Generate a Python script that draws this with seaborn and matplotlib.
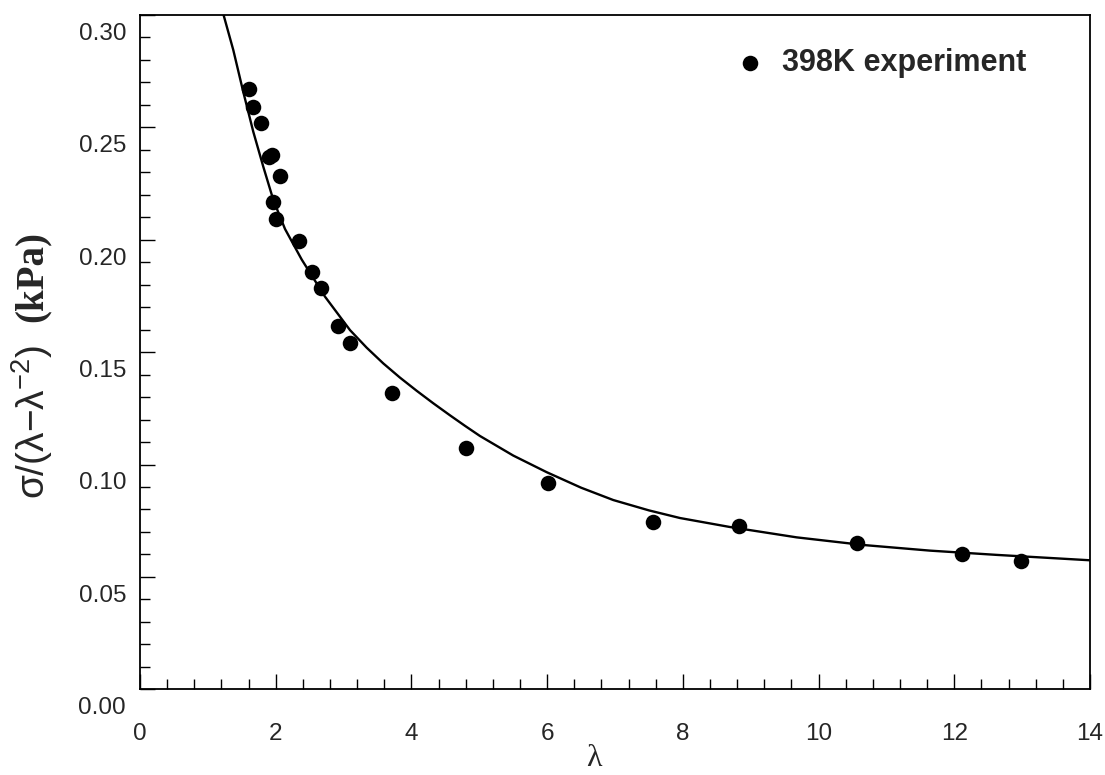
import matplotlib
matplotlib.use("Agg")
import matplotlib.pyplot as plt
import pandas as pd
import seaborn as sns
from matplotlib.ticker import MultipleLocator, NullFormatter

# Measured reduced stress vs. stretch ratio at 398 K
lam_exp = [1.61, 1.66, 1.79, 1.90, 1.94, 2.06, 1.96, 2.01, 2.34, 2.53, 2.66,
           2.92, 3.10, 3.72, 4.81, 6.02, 7.56, 8.83, 10.57, 12.11, 12.98]
stress_exp = [0.2669, 0.2592, 0.2518, 0.2370, 0.2376, 0.2284, 0.2167, 0.2091,
              0.1996, 0.1858, 0.1784, 0.1616, 0.1539, 0.1317, 0.1072, 0.0916,
              0.0746, 0.0727, 0.0652, 0.0602, 0.0572]

# Model curve
lam_fit = [1.228, 1.375, 1.52, 1.67, 1.817, 1.965, 2.137, 2.383, 2.726, 3.095,
           3.34, 3.585, 3.83, 4.078, 4.32, 4.568, 4.79, 5.01, 5.5, 5.993,
           6.5, 6.975, 7.5, 7.958, 8.695, 9.677, 10.66, 11.64, 12.625, 14.0]
stress_fit = [0.3004, 0.2844, 0.2660, 0.2480, 0.2325, 0.2177, 0.2048, 0.1912,
              0.1747, 0.1598, 0.1520, 0.1450, 0.1387, 0.1328, 0.1273, 0.1219,
              0.1172, 0.1127, 0.1040, 0.0966, 0.0897, 0.0842, 0.0796, 0.0762,
              0.0722, 0.0676, 0.0642, 0.0617, 0.0598, 0.0574]

y_ticks = [0.00, 0.05, 0.10, 0.15, 0.20, 0.25, 0.30]
x_ticks = [0, 2, 4, 6, 8, 10, 12, 14]

sns.set_style("ticks")
plt.rcParams["font.family"] = ["Liberation Sans", "DejaVu Sans"]
plt.rcParams["mathtext.fontset"] = "custom"
plt.rcParams["mathtext.rm"] = "Liberation Sans"
plt.rcParams["mathtext.it"] = "Liberation Sans:italic"
plt.rcParams["mathtext.bf"] = "Liberation Sans:bold"

W, H = 1105, 775
fig = plt.figure(figsize=(W / 100, H / 100), dpi=100)
ax = fig.add_axes([140 / W, (H - 689.3) / H, 950 / W, 674.3 / H])

exp = pd.DataFrame({"lam": lam_exp, "s": stress_exp})
fit = pd.DataFrame({"lam": lam_fit, "s": stress_fit})

sns.lineplot(data=fit, x="lam", y="s", ax=ax, color="black", linewidth=1.7,
             sort=False, estimator=None)
sns.scatterplot(data=exp, x="lam", y="s", ax=ax, color="black", s=125,
                linewidth=0, label="398K experiment", zorder=3)

ax.set_xlim(0, 14)
ax.set_ylim(0, 0.30)
ax.set_xlabel("")
ax.set_ylabel("")

ax.set_xticks(x_ticks)
ax.set_xticklabels([str(v) for v in x_ticks])
ax.xaxis.set_minor_locator(MultipleLocator(0.4))
ax.set_yticks(y_ticks)
ax.yaxis.set_major_formatter(NullFormatter())
ax.yaxis.set_minor_locator(MultipleLocator(0.01))

ax.tick_params(which="both", direction="in", top=False, right=False,
               color="black", width=1.0)
ax.tick_params(which="major", length=10.5)
ax.tick_params(which="minor", length=7)
ax.tick_params(axis="x", which="major", labelsize=17.5, pad=24)

# y tick labels sit a little below their ticks
for v in y_ticks:
    ax.annotate(f"{v:.2f}", xy=(0, v), xycoords=("axes fraction", "data"),
                xytext=(-10, -13.5), textcoords="offset points",
                ha="right", va="center", fontsize=17.5)

for sp in ax.spines.values():
    sp.set_visible(True)
    sp.set_color("black")
    sp.set_linewidth(1.3)

leg = ax.legend(loc="center left", bbox_to_anchor=(0.6293, 0.9288),
                frameon=False, fontsize=22, handlelength=0.8,
                handletextpad=0.65, borderpad=0, borderaxespad=0,
                markerscale=1.0)
for t in leg.get_texts():
    t.set_fontweight("bold")

# Axis titles
fig.text(0.029, 1 - 422 / H, r"σ/(λ−λ$^{-2}$)", rotation=90, ha="center",
         va="center", fontsize=28)
fig.text(0.029, 1 - 276 / H, "(kPa)", rotation=90, ha="center", va="center",
         fontsize=28, family="Liberation Serif", fontweight="bold")
fig.text(594 / W, 2 / H, "λ", ha="center", va="bottom", fontsize=23,
         family="Liberation Serif")

fig.savefig("out.png", dpi=100)
